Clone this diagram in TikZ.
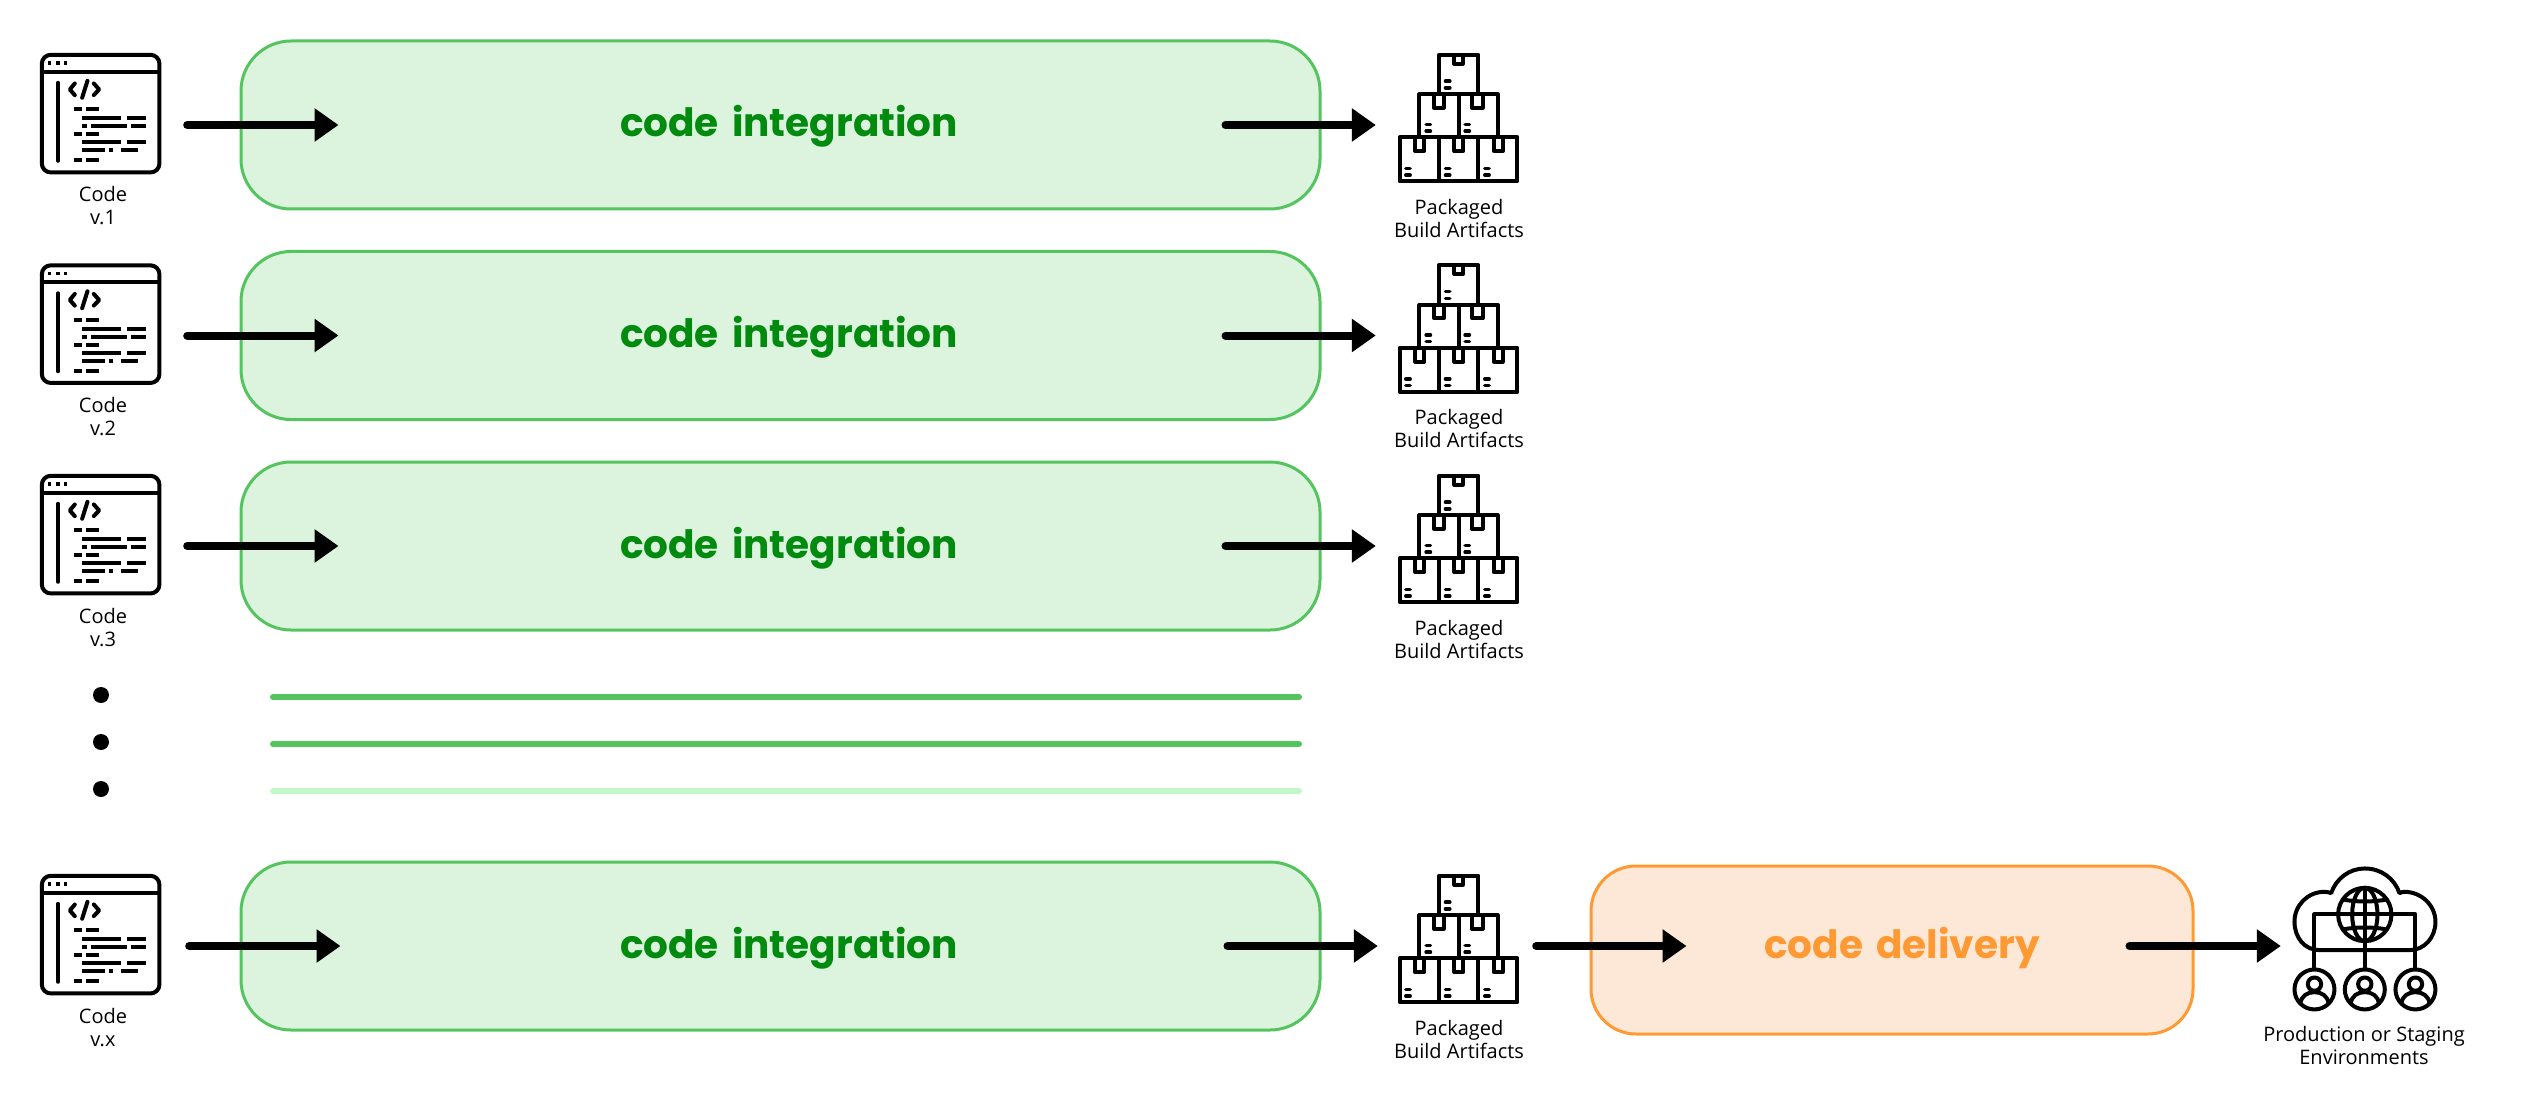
\documentclass[tikz,border=0pt]{standalone}
\usepackage{fontspec}
\setmainfont{Open Sans}
\newfontfamily\titlefont[WordSpace=1.6]{Poppins}
\usetikzlibrary{arrows.meta, positioning}

\definecolor{greenline}{HTML}{54C45E}
\definecolor{greenfill}{HTML}{DCF3DE}
\definecolor{greentext}{HTML}{008A0E}
\definecolor{greenpale}{HTML}{C3F6C8}
\definecolor{orangeline}{HTML}{FF9933}
\definecolor{orangefill}{HTML}{FDE8D7}

\tikzset{
  flow/.style={line width=8pt, line cap=round, -{Triangle[length=24pt,width=32pt]}},
  stagebox/.style={rounded corners=50pt, line width=3pt, minimum height=168pt, inner sep=0pt},
  integrate/.style={stagebox, draw=greenline, fill=greenfill, minimum width=1079pt},
  deliver/.style={stagebox, draw=orangeline, fill=orangefill, minimum width=602pt, rounded corners=45pt},
  boxtitle/.style={font=\titlefont\bfseries\fontsize{39}{42}\selectfont, anchor=base},
  caption/.style={font=\fontsize{20}{23}\selectfont, align=center, anchor=base, inner sep=0pt},
  iconbox/.style={inner sep=0pt, minimum width=#1},
  gapline/.style={line width=6pt, line cap=round},
  % icons are drawn in units of a third of a pixel from their top left corner
  codeicon/.pic={
    \begin{scope}[x=0.3333pt, y=-0.3333pt, line width=4pt]
    \draw [rounded corners=9pt] (6,6) rectangle (359,359);
    \draw (6,57) -- (359,57);
    \foreach \x in {25,50,73} { \fill (\x,25) rectangle (\x+10,36); }
    \draw [line cap=round] (55,90) -- (55,324);
    \draw [line cap=round, line join=round] (105,92) -- (90,110) -- (105,127);
    \draw [line cap=round] (143,84) -- (127,135);
    \draw [line cap=round, line join=round] (162,92) -- (178,110) -- (162,127);
    \foreach \y/\a/\b in {170/102/128, 170/140/177, 196/128/243, 196/262/318,
        220/128/142, 220/154/262, 220/274/318, 244/102/128, 244/140/177,
        268/128/243, 268/262/318, 292/128/195, 292/207/219, 292/243/295,
        322/102/128, 322/140/177} {
      \draw (\a,\y) -- (\b,\y);
    }
    \end{scope}
  },
  packicon/.pic={
    \begin{scope}[x=0.3333pt, y=-0.3333pt, line width=4pt, line join=round]
    \draw (123,125) -- (123,6) -- (242,6) -- (242,125);
    \draw (65,253) -- (65,125) -- (300,125) -- (300,253);
    \draw (183,125) -- (183,253);
    \draw (6,253) rectangle (359,386);
    \draw (123,253) -- (123,386);
    \draw (242,253) -- (242,386);
    \draw (170,6) -- (170,33) -- (195,33) -- (195,6);
    \foreach \a/\b in {109/138, 223/255} { \draw (\a,125) -- (\a,165) -- (\b,165) -- (\b,125); }
    \foreach \a/\b in {52/80, 170/197, 288/315} { \draw (\a,253) -- (\a,295) -- (\b,295) -- (\b,253); }
    \foreach \x/\y in {138/85, 138/105, 80/215, 80/235, 197/215, 197/235,
        19/347, 19/367, 138/347, 138/367, 256/347, 256/367} {
      \draw [line width=3.5pt, line cap=round] (\x+5,\y) -- (\x+18,\y);
    }
    \end{scope}
  },
  envicon/.pic={
    \begin{scope}[x=0.3333pt, y=-0.3333pt, line width=4pt, line join=round]
    \draw (80,250) .. controls (35,250) and (5,212) .. (5,165)
      .. controls (5,115) and (45,75) .. (95,75)
      .. controls (103,75) and (110,77) .. (115,79)
      .. controls (130,35) and (170,5) .. (216,5)
      .. controls (265,5) and (305,35) .. (320,79)
      .. controls (325,77) and (330,75) .. (335,75)
      .. controls (385,75) and (428,115) .. (428,165)
      .. controls (428,212) and (395,250) .. (350,250) -- cycle;
    \draw [fill=white] (216,143) circle [radius=80];
    \draw (216,143) ellipse [x radius=38, y radius=80];
    \draw (216,63) -- (216,303);
    \draw (65,303) -- (65,143) -- (368,143) -- (368,303);
    \draw (150,98) .. controls (190,106) and (242,106) .. (282,98);
    \draw (150,188) .. controls (190,180) and (242,180) .. (282,188);
    \foreach \x in {65,216,368} {
      \draw (\x,368) circle [radius=60];
      \draw (\x,352) circle [radius=20];
      \draw (\x-42,410) .. controls (\x-40,388) and (\x-22,376) .. (\x,376)
        .. controls (\x+22,376) and (\x+40,388) .. (\x+42,410);
    }
    \end{scope}
  }
}

\begin{document}
\begin{tikzpicture}[x=1pt, y=-1pt]
\useasboundingbox (0,0) rectangle (2525,1102);
\foreach \n/\y/\v/\d in {1/0/1/0, 2/210.5/2/0, 3/421/3/0, 4/821/x/2} {
  \node [integrate] (box\n) at (780.5,125+\y) {};
  \node [boxtitle, text=greentext] (title\n) at (789,137+\y) {code integration};
  \node [iconbox=122pt, minimum height=144pt] (code\n) at (101,125+\y) {};
  \pic at (code\n.north west) {codeicon};
  \node [caption] (codelabel\n) at (103,225+\y) {Code\\v.\v};
  \node [iconbox=122pt, minimum height=144pt] (pack\n) at (1459,125+\y) {};
  \pic at (pack\n.north west) {packicon};
  \node [caption] (packlabel\n) at (1459,237+\y) {Packaged\\Build Artifacts};
  \draw [flow] ([xshift=25pt+\d pt]code\n.east) -- ([xshift=99pt+\d pt]box\n.west);
  \draw [flow] ([xshift=-96pt+\d pt]box\n.east) -- ([xshift=-22pt+\d pt]pack\n.west);
}
% the rows that are left out
\foreach \y/\c in {697/greenline, 744/greenline, 791/greenpale} {
  \fill (101,\y-2) circle [radius=8];
  \draw [gapline, \c] (273,\y) -- (1299,\y);
}
\node [deliver] (stage) at (1892,950) {};
\node [boxtitle, text=orangeline] (stagetitle) at (1902,958) {code delivery};
\node [iconbox=144pt, minimum height=158pt] (env) at (2365,946) {};
\pic at (env.north west) {envicon};
\node [caption] (envlabel) at (2364,1064) {Production or Staging\\Environments};
\draw [flow] ([xshift=16pt]pack4.east) -- ([xshift=97pt, yshift=4pt]stage.west);
\draw [flow] ([xshift=-65pt, yshift=4pt]stage.east) -- ([xshift=-12pt]env.west);
\end{tikzpicture}
\end{document}
